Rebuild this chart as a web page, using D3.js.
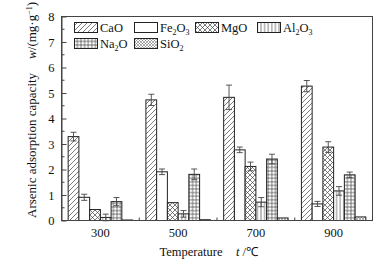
<!DOCTYPE html>
<html><head><meta charset="utf-8">
<script src="https://cdn.jsdelivr.net/npm/d3@7/dist/d3.min.js"></script>
<style>body{margin:0;background:#fff}svg{display:block;font-family:"Liberation Serif","Times New Roman",serif}</style>
</head><body><svg id="c" width="389" height="263"></svg>
<script>
const temps = ["300","500","700","900"];
const series = ["CaO","Fe2O3","MgO","Al2O3","Na2O","SiO2"];
const CaO   = [3.29, 4.73, 4.83, 5.27];
const Fe2O3 = [0.91, 1.91, 2.77, 0.65];
const MgO   = [0.43, 0.70, 2.12, 2.88];
const Al2O3 = [0.12, 0.26, 0.72, 1.16];
const Na2O  = [0.74, 1.81, 2.41, 1.79];
const SiO2  = [0.02, 0.03, 0.10, 0.14];
const errCaO   = [0.17, 0.22, 0.48, 0.22];
const errFe2O3 = [0.12, 0.11, 0.11, 0.10];
const errMgO   = [0.00, 0.00, 0.17, 0.21];
const errAl2O3 = [0.13, 0.13, 0.18, 0.17];
const errNa2O  = [0.16, 0.21, 0.19, 0.11];
const errSiO2  = [0, 0, 0, 0];
const yTicks = [0,1,2,3,4,5,6,7,8];

const values = {CaO, Fe2O3, MgO, Al2O3, Na2O, SiO2};
const errs = {CaO:errCaO, Fe2O3:errFe2O3, MgO:errMgO, Al2O3:errAl2O3, Na2O:errNa2O, SiO2:errSiO2};

const svg = d3.select("#c");
const L=61.5, R=372.5, T=16.5, B=220.5;
const x = d3.scaleBand().domain(temps).range([L,R]).paddingInner(0).paddingOuter(0);
const xi = d3.scaleBand().domain(series).range([0,x.bandwidth()]).paddingInner(0).paddingOuter(0.62);
const y = d3.scaleLinear().domain([0,8]).range([B,T]);

// patterns
const defs = svg.append("defs");
const pc = "#444", pw = 0.7;
function pat(id, w, h, draw){
  const p = defs.append("pattern").attr("id",id).attr("patternUnits","userSpaceOnUse").attr("width",w).attr("height",h);
  p.append("rect").attr("width",w).attr("height",h).attr("fill","#fff");
  draw(p);
}
pat("pCaO",5,5,p=>{
  p.append("path").attr("d","M0,5 L5,0 M-1,1 L1,-1 M4,6 L6,4").attr("stroke",pc).attr("stroke-width",pw);
});
pat("pFe2O3",4,4,p=>{});
pat("pMgO",5,5,p=>{
  p.append("path").attr("d","M0,5 L5,0 M-1,1 L1,-1 M4,6 L6,4 M0,0 L5,5 M-1,4 L1,6 M4,-1 L6,1").attr("stroke",pc).attr("stroke-width",pw);
});
pat("pAl2O3",3.6,4,p=>{
  p.append("path").attr("d","M1.8,0 L1.8,4").attr("stroke",pc).attr("stroke-width",pw);
});
pat("pNa2O",3.6,3.6,p=>{
  p.append("path").attr("d","M1.8,0 L1.8,3.6 M0,1.8 L3.6,1.8").attr("stroke",pc).attr("stroke-width",pw);
});
pat("pSiO2",3,3,p=>{
  p.append("path").attr("d","M0,3 L3,0 M0,0 L3,3").attr("stroke","#777").attr("stroke-width",0.6);
});

// bars
const g = svg.append("g");
temps.forEach((t,ti)=>{
  series.forEach(s=>{
    const v = values[s][ti];
    const bx = x(t)+xi(s);
    g.append("rect").attr("x",bx).attr("y",y(v)).attr("width",xi.bandwidth()).attr("height",y(0)-y(v))
      .attr("fill",`url(#p${s})`).attr("stroke","#222").attr("stroke-width",1);
    const e = errs[s][ti];
    if(e>0){
      const cx = bx+xi.bandwidth()/2;
      g.append("path").attr("d",`M${cx},${y(v+e)} L${cx},${y(v-e)} M${cx-3},${y(v+e)} L${cx+3},${y(v+e)} M${cx-3},${y(v-e)} L${cx+3},${y(v-e)}`)
        .attr("stroke","#444").attr("stroke-width",0.9).attr("fill","none");
    }
  });
});

// frame
svg.append("rect").attr("x",L).attr("y",T).attr("width",R-L).attr("height",B-T).attr("fill","none").attr("stroke","#444").attr("stroke-width",1);

// y axis
const ya = svg.append("g").attr("transform",`translate(${L},0)`)
  .call(d3.axisLeft(y).tickValues(yTicks).tickFormat(d3.format("d")).tickSizeInner(-5).tickSizeOuter(0).tickPadding(7));
ya.select(".domain").attr("stroke","#444");
ya.selectAll(".tick line").attr("stroke","#444");
ya.selectAll("text").attr("font-size",12.5).attr("fill","#111").attr("font-family","Liberation Serif");
const minor = d3.range(0.5,8,1);
svg.append("g").selectAll("line").data(minor).join("line")
  .attr("x1",L).attr("x2",L+3).attr("y1",d=>y(d)).attr("y2",d=>y(d)).attr("stroke","#444");

// x axis
const xa = svg.append("g").attr("transform",`translate(0,${B})`)
  .call(d3.axisBottom(x).tickSize(0).tickPadding(8));
xa.select(".domain").remove();
xa.selectAll("text").attr("font-size",12.5).attr("fill","#111").attr("font-family","Liberation Serif");
svg.append("g").selectAll("line").data(temps.slice(1)).join("line")
  .attr("x1",d=>x(d)).attr("x2",d=>x(d)).attr("y1",B).attr("y2",B-3).attr("stroke","#444");

// axis titles
svg.append("text").attr("x",191).attr("y",256).attr("text-anchor","middle").attr("font-size",12.5).attr("fill","#111").text("Temperature");
const tl = svg.append("text").attr("x",236).attr("y",256).attr("font-size",12.5).attr("fill","#111");
tl.append("tspan").attr("font-style","italic").text("t");
tl.append("tspan").text(" /℃");

const yl = svg.append("text").attr("transform","translate(36,218) rotate(-90)").attr("font-size",13).attr("fill","#111");
yl.append("tspan").text("Arsenic adsorption capacity");
yl.append("tspan").attr("dx",14).attr("font-style","italic").text("w");
yl.append("tspan").text("/(mg·g");
yl.append("tspan").attr("dy",-4).attr("font-size",8).text("−1");
yl.append("tspan").attr("dy",4).text(")");

// legend
const legendCols = [74,134,195,257];
const legendRows = [22,38];
const labels = {CaO:["CaO"],Fe2O3:["Fe","2","O","3"],MgO:["MgO"],Al2O3:["Al","2","O","3"],Na2O:["Na","2","O"],SiO2:["SiO","2"]};
series.forEach((s,i)=>{
  const cx = legendCols[i%4], cy = legendRows[Math.floor(i/4)];
  svg.append("rect").attr("x",cx+0.5).attr("y",cy+0.5).attr("width",23).attr("height",10)
    .attr("fill",`url(#p${s})`).attr("stroke","#222").attr("stroke-width",1);
  const tx = svg.append("text").attr("x",cx+26).attr("y",cy+10).attr("font-size",12.5).attr("fill","#111");
  labels[s].forEach((part,k)=>{
    const isSub = /^\d$/.test(part);
    const sp = tx.append("tspan").text(part);
    if(isSub){ sp.attr("font-size",8).attr("dy",3); }
    else if(k>0 && /^\d$/.test(labels[s][k-1])){ sp.attr("dy",-3); }
  });
});
</script></body></html>
